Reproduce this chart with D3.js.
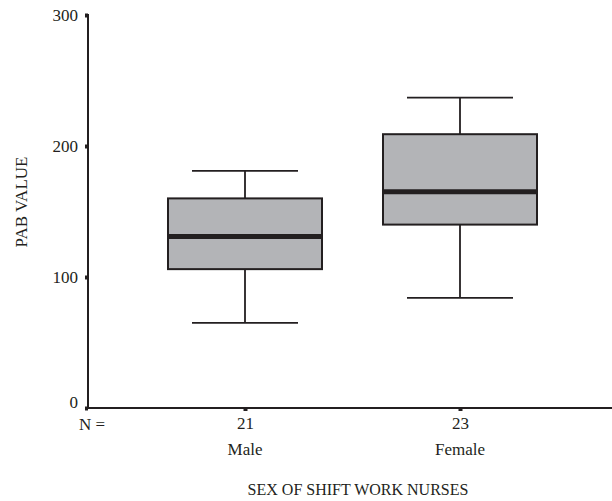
<!DOCTYPE html>
<html>
<head>
<meta charset="utf-8">
<script src="https://cdn.jsdelivr.net/npm/d3@7"></script>
<style>
  body { margin: 0; background: #fff; }
  text { font-family: "Liberation Serif", "DejaVu Serif", serif; fill: #231f20; }
</style>
</head>
<body>
<svg></svg>
<script>
var width = 612
var height = 501

// data
var groups = ["Male", "Female"]
var counts = [21, 23]
var whiskerLow = [65, 84]
var q1 = [106, 140]
var medians = [131, 165]
var q3 = [160, 209]
var whiskerHigh = [181, 237]
var yTicks = [0, 100, 200, 300]

var data = groups.map((g, i) => ({
    group: g,
    n: counts[i],
    lo: whiskerLow[i],
    q1: q1[i],
    med: medians[i],
    q3: q3[i],
    hi: whiskerHigh[i]
}))

var axisLeftX = 88
var axisBottomY = 408
var ink = "#231f20"
var fontSize = "17px"

var svg = d3.select("svg")
    .attr("width", width)
    .attr("height", height)

var yScale = d3.scaleLinear()
    .domain([0, 300])
    .range([axisBottomY, 15])

var xScale = d3.scalePoint()
    .domain(groups)
    .range([245, 460])

var boxWidth = 154
var capWidth = 106

// axes lines
svg.append("line")
    .attr("x1", axisLeftX).attr("x2", axisLeftX)
    .attr("y1", yScale(300) - 1).attr("y2", axisBottomY)
    .attr("stroke", ink).attr("stroke-width", 2)

svg.append("line")
    .attr("x1", axisLeftX - 1).attr("x2", width)
    .attr("y1", axisBottomY).attr("y2", axisBottomY)
    .attr("stroke", ink).attr("stroke-width", 2)

// y ticks
var yAxis = d3.axisLeft(yScale)
    .tickValues(yTicks)
    .tickSize(3)
    .tickPadding(7)

var gy = svg.append("g")
    .attr("transform", `translate(${axisLeftX}, 0)`)
    .call(yAxis)
gy.select(".domain").remove()
gy.selectAll(".tick line").attr("stroke", ink).attr("stroke-width", 4)
gy.selectAll(".tick text")
    .style("font-size", fontSize)
    .style("font-family", "'Liberation Serif', serif")
    .attr("fill", ink)
    .attr("dy", d => d === 0 ? "-0.05em" : "0.3em")

// x ticks
var xAxis = d3.axisBottom(xScale)
    .tickSize(3)
    .tickPadding(6)
    .tickFormat((d, i) => counts[i])

var gx = svg.append("g")
    .attr("transform", `translate(0, ${axisBottomY})`)
    .call(xAxis)
gx.select(".domain").remove()
gx.selectAll(".tick line").attr("stroke", ink).attr("stroke-width", 4)
gx.selectAll(".tick text")
    .style("font-size", fontSize)
    .style("font-family", "'Liberation Serif', serif")
    .attr("fill", ink)

svg.append("text")
    .attr("x", 92)
    .attr("y", 430)
    .style("font-size", fontSize)
    .style("text-anchor", "middle")
    .text("N =")

svg.selectAll(".group-label")
    .data(data)
    .enter()
    .append("text")
    .attr("class", "group-label")
    .attr("x", d => xScale(d.group))
    .attr("y", 455)
    .style("font-size", fontSize)
    .style("text-anchor", "middle")
    .text(d => d.group)

// boxes
var box = svg.selectAll(".box")
    .data(data)
    .enter()
    .append("g")
    .attr("class", "box")

box.append("line")
    .attr("x1", d => xScale(d.group)).attr("x2", d => xScale(d.group))
    .attr("y1", d => yScale(d.hi)).attr("y2", d => yScale(d.q3))
    .attr("stroke", ink).attr("stroke-width", 1.8)

box.append("line")
    .attr("x1", d => xScale(d.group)).attr("x2", d => xScale(d.group))
    .attr("y1", d => yScale(d.q1)).attr("y2", d => yScale(d.lo))
    .attr("stroke", ink).attr("stroke-width", 1.8)

box.append("line")
    .attr("x1", d => xScale(d.group) - capWidth / 2).attr("x2", d => xScale(d.group) + capWidth / 2)
    .attr("y1", d => yScale(d.hi)).attr("y2", d => yScale(d.hi))
    .attr("stroke", ink).attr("stroke-width", 1.8)

box.append("line")
    .attr("x1", d => xScale(d.group) - capWidth / 2).attr("x2", d => xScale(d.group) + capWidth / 2)
    .attr("y1", d => yScale(d.lo)).attr("y2", d => yScale(d.lo))
    .attr("stroke", ink).attr("stroke-width", 1.8)

box.append("rect")
    .attr("x", d => xScale(d.group) - boxWidth / 2)
    .attr("width", boxWidth)
    .attr("y", d => yScale(d.q3))
    .attr("height", d => yScale(d.q1) - yScale(d.q3))
    .attr("fill", "#b3b4b7")
    .attr("stroke", ink)
    .attr("stroke-width", 2)

box.append("line")
    .attr("x1", d => xScale(d.group) - boxWidth / 2).attr("x2", d => xScale(d.group) + boxWidth / 2)
    .attr("y1", d => yScale(d.med)).attr("y2", d => yScale(d.med))
    .attr("stroke", ink).attr("stroke-width", 5)

// axis titles
svg.append("text")
    .attr("transform", "rotate(-90)")
    .attr("x", -202)
    .attr("y", 27)
    .style("font-size", fontSize)
    .style("text-anchor", "middle")
    .text("PAB VALUE")

svg.append("text")
    .attr("x", 358)
    .attr("y", 495)
    .style("font-size", "16px")
    .style("text-anchor", "middle")
    .text("SEX OF SHIFT WORK NURSES")
</script>
</body>
</html>
